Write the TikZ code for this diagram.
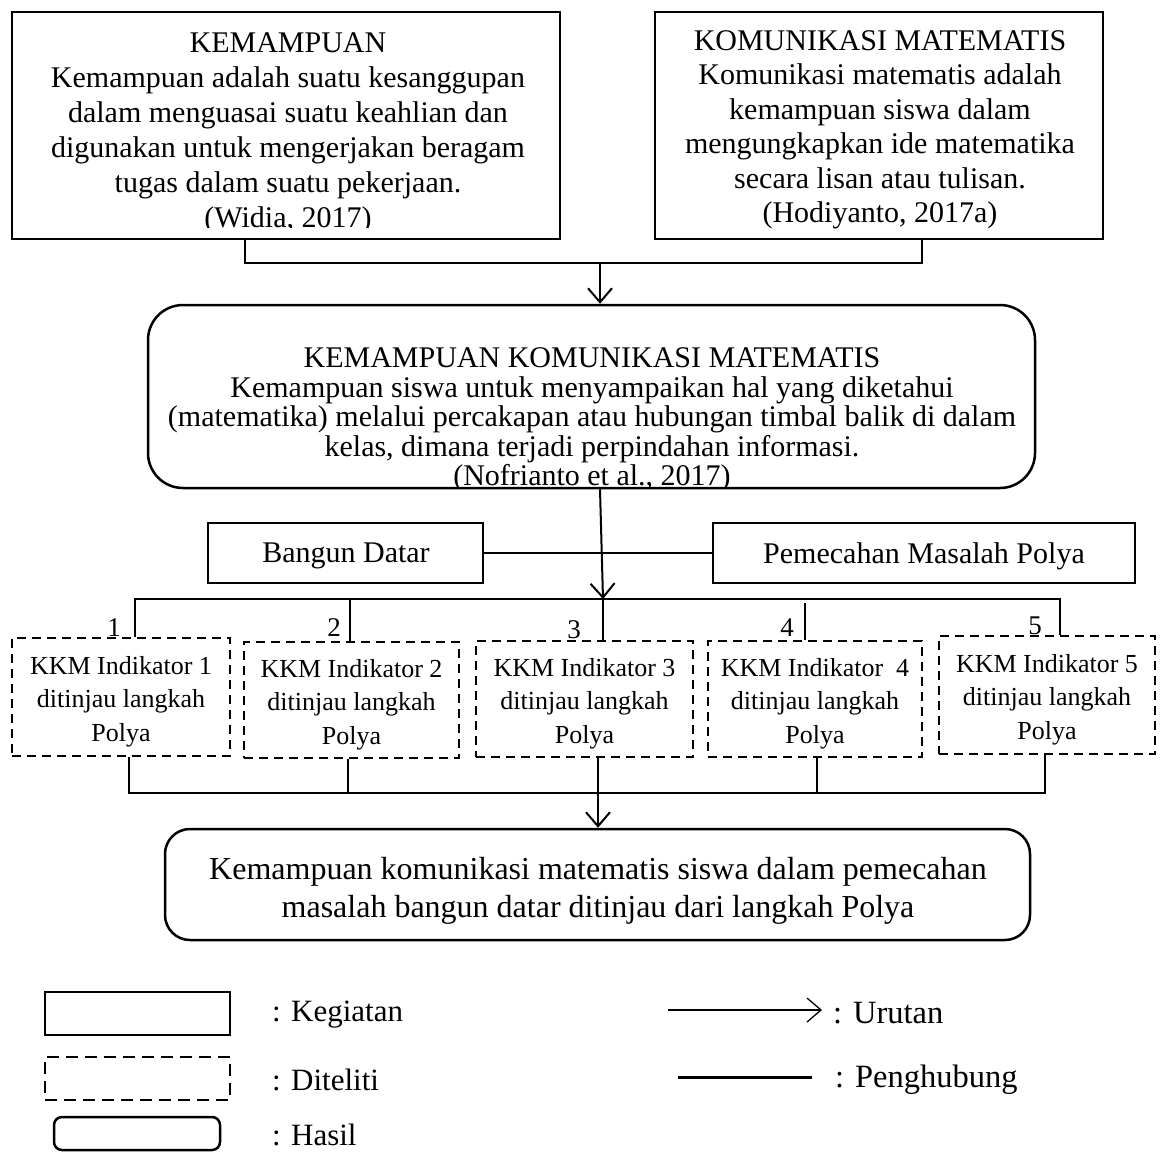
\documentclass[tikz,border=0pt]{standalone}
\usepackage{fontspec}
\setmainfont{Liberation Serif}
\usetikzlibrary{arrows.meta}

\begin{document}
\begin{tikzpicture}[x=1pt,y=-1pt,
  every node/.style={inner sep=0pt},
  txt/.style={font=\fontsize{30}{34.5}\selectfont, align=center},
  midtxt/.style={font=\fontsize{30}{29.5}\selectfont, align=center},
  bigtxt/.style={font=\fontsize{32}{38}\selectfont, align=center},
  smalltxt/.style={font=\fontsize{26}{33.5}\selectfont, align=center},
  numtxt/.style={font=\fontsize{27}{30}\selectfont},
  legtxt/.style={font=\fontsize{31}{36}\selectfont, anchor=west},
  legtxtr/.style={font=\fontsize{32.5}{36}\selectfont, anchor=west},
  kbox/.style={draw, line width=2.5pt},
  dbox/.style={draw, line width=2.5pt, dash pattern=on 9pt off 6pt},
  rbox/.style={draw, line width=2.5pt, rounded corners=#1},
  link/.style={line width=2.5pt},
  flow/.style={line width=2pt, -{Straight Barb[length=14pt,width=24pt,line width=2pt]}},
]
\useasboundingbox (0,0) rectangle (1162,1152);

% --- two source boxes -------------------------------------------------
\node[kbox, minimum width=548pt, minimum height=227pt] (a) at (286,125.5) {};
\begin{scope}
  \clip (12,12) rectangle (560,227);
  \node[txt, font=\fontsize{30}{35}\selectfont] (at) at (288,133)
    {KEMAMPUAN\\Kemampuan adalah suatu kesanggupan\\dalam menguasai suatu keahlian dan\\digunakan untuk mengerjakan beragam\\tugas dalam suatu pekerjaan.\\(Widia, 2017)};
\end{scope}
\node[kbox, minimum width=448pt, minimum height=227pt] (b) at (879,125.5) {};
\node[txt] (bt) at (880,130)
  {KOMUNIKASI MATEMATIS\\Komunikasi matematis adalah\\kemampuan siswa dalam\\mengungkapkan ide matematika\\secara lisan atau tulisan.\\(Hodiyanto, 2017a)};

\coordinate (ja) at (245,263);
\coordinate (jb) at (922,263);
\coordinate (jc) at (600,263);
\draw[link] (a.south -| ja) -- (ja) -- (jb) -- (b.south -| jb);

% --- combined concept -------------------------------------------------
\begin{scope}
  \clip (148,305) rectangle (1035,488);
  \node[midtxt] (mt) at (592,420)
    {KEMAMPUAN KOMUNIKASI MATEMATIS\\Kemampuan siswa untuk menyampaikan hal yang diketahui\\(matematika) melalui percakapan atau hubungan timbal balik di dalam\\kelas, dimana terjadi perpindahan informasi.\\(Nofrianto et al., 2017)};
\end{scope}
\node[rbox=35pt, minimum width=887pt, minimum height=183pt] (m) at (591.5,396.5) {};
\draw[flow] (jc) -- (m.north -| jc);

% --- context boxes ----------------------------------------------------
\node[kbox, minimum width=275pt, minimum height=60pt] (bd) at (345.5,553) {};
\node[txt] (bdt) at (346,556) {Bangun Datar};
\node[kbox, minimum width=422pt, minimum height=60pt] (pm) at (924,553) {};
\node[txt] (pmt) at (924,556) {Pemecahan Masalah Polya};
\draw[link] (bd.east) -- (pm.west);

% --- indicator boxes --------------------------------------------------
\node[dbox, minimum width=218pt, minimum height=118pt] (k1) at (121,697) {};
\node[dbox, minimum width=215pt, minimum height=116pt] (k2) at (351.5,700) {};
\node[dbox, minimum width=217pt, minimum height=116pt] (k3) at (584.5,699) {};
\node[dbox, minimum width=214pt, minimum height=116pt] (k4) at (815,699) {};
\node[dbox, minimum width=216pt, minimum height=118pt] (k5) at (1047,695) {};
\node[smalltxt] (k1t) at (121,701.5) {KKM Indikator 1\\ditinjau langkah\\Polya};
\node[smalltxt] (k2t) at (351.5,704.5) {KKM Indikator 2\\ditinjau langkah\\Polya};
\node[smalltxt] (k3t) at (584.5,703.5) {KKM Indikator 3\\ditinjau langkah\\Polya};
\node[smalltxt] (k4t) at (815,703.5) {KKM Indikator\ \ 4\\ditinjau langkah\\Polya};
\node[smalltxt] (k5t) at (1047,699.5) {KKM Indikator 5\\ditinjau langkah\\Polya};

\node[numtxt, anchor=base] (n1) at (114,636) {1};
\node[numtxt, anchor=base] (n2) at (334,636) {2};
\node[numtxt, anchor=base] (n3) at (574,638) {3};
\node[numtxt, anchor=base] (n4) at (787,636) {4};
\node[numtxt, anchor=base] (n5) at (1035,634) {5};

% branching to the indicators
\coordinate (c0) at (600,488);
\coordinate (t1) at (135,599);
\coordinate (t2) at (350,599);
\coordinate (t3) at (603,599);
\coordinate (t4) at (805,599);
\coordinate (t5) at (1060,599);
\draw[flow] (m.south -| c0) -- (t3);
\draw[link] (k1.north -| t1) -- (t1) -- (t5) -- (k5.north -| t5);
\draw[link] (t2) -- (k2.north -| t2);
\draw[link] (t3) -- (k3.north -| t3);
\draw[link] ([yshift=-4pt]t4) -- (k4.north -| t4);

% gathering the indicators
\coordinate (u1) at (129,793);
\coordinate (u2) at (348,793);
\coordinate (u3) at (598,793);
\coordinate (u4) at (817,793);
\coordinate (u5) at (1045,793);
\draw[link] (k1.south -| u1) -- (u1) -- (u5) -- (k5.south -| u5);
\draw[link] (k2.south -| u2) -- (u2);
\draw[link] (k3.south -| u3) -- (u3);
\draw[link] (k4.south -| u4) -- (u4);

% --- result -----------------------------------------------------------
\node[rbox=25pt, minimum width=865pt, minimum height=111pt] (f) at (597.5,884.5) {};
\node[bigtxt] (ft) at (598,890.5)
  {Kemampuan komunikasi matematis siswa dalam pemecahan\\masalah bangun datar ditinjau dari langkah Polya};
\draw[flow] (u3) -- (f.north -| u3);

% --- legend -----------------------------------------------------------
\node[kbox, minimum width=185pt, minimum height=43pt] (lk) at (137.5,1013.5) {};
\node[dbox, dash pattern=on 12pt off 7pt, minimum width=185pt, minimum height=43pt] (ld) at (137.5,1078.5) {};
\node[rbox=8pt, minimum width=166pt, minimum height=33pt] (lh) at (137,1133.5) {};
\node[legtxt] (tk) at (272,1015) {: Kegiatan};
\node[legtxt] (td) at (272,1080) {: Diteliti};
\node[legtxt] (th) at (272,1135) {: Hasil};

\coordinate (ua) at (668,1010);
\coordinate (ub) at (822,1010);
\draw[line width=1.3pt, -{Straight Barb[length=14pt,width=24pt,line width=1.3pt]}] (ua) -- (ub);
\node[legtxtr] (tu) at (833,1013) {: Urutan};
\coordinate (pa) at (678,1077);
\coordinate (pb) at (812,1077);
\draw[line width=3pt] (pa) -- (pb);
\node[legtxtr] (tp) at (835,1080) {: Penghubung};
\end{tikzpicture}
\end{document}
